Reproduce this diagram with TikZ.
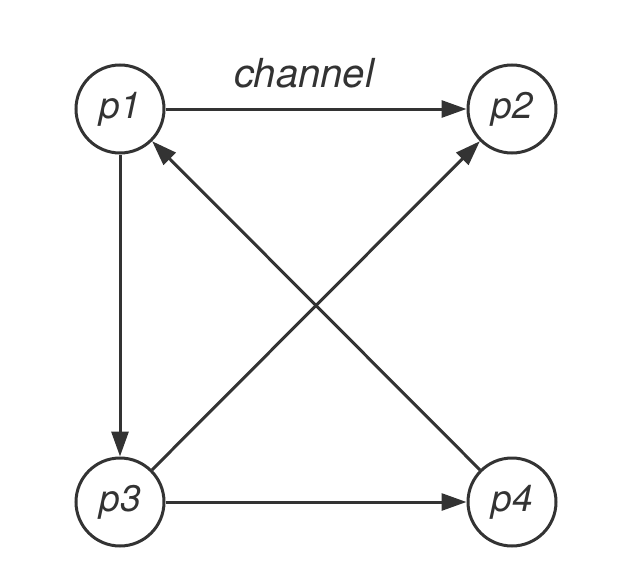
\documentclass[tikz,border=0pt]{standalone}
\usepackage{fontspec}
\setsansfont{TeX Gyre Heros}
\usetikzlibrary{arrows.meta}
\definecolor{ink}{HTML}{333333}
\tikzset{
  proc/.style={draw=ink,line width=3pt,circle,minimum size=88pt,inner sep=0pt,text=ink,font=\fontsize{37}{40}\sffamily\itshape\selectfont},
  arr/.style={-{Triangle[length=25pt,width=17pt]},line width=3pt,draw=ink},
  lbl/.style={text=ink,font=\fontsize{40}{42}\sffamily\itshape\selectfont},
}
\begin{document}
\begin{tikzpicture}[x=1pt,y=-1pt]
 \useasboundingbox (0,0) rectangle (634,586);
 \node[proc] (p1) at (120,109){p1};
 \node[proc] (p2) at (512,109){p2};
 \node[proc] (p3) at (120,502){p3};
 \node[proc] (p4) at (512,502){p4};
 \node[lbl] (chan) at (304,73){channel};
 \draw[arr] (p1) -- (p2);
 \draw[arr] (p1) -- (p3);
 \draw[arr] (p3) -- (p4);
 \draw[arr] (p3) -- (p2);
 \draw[arr] (p4) -- (p1);
\end{tikzpicture}
\end{document}
